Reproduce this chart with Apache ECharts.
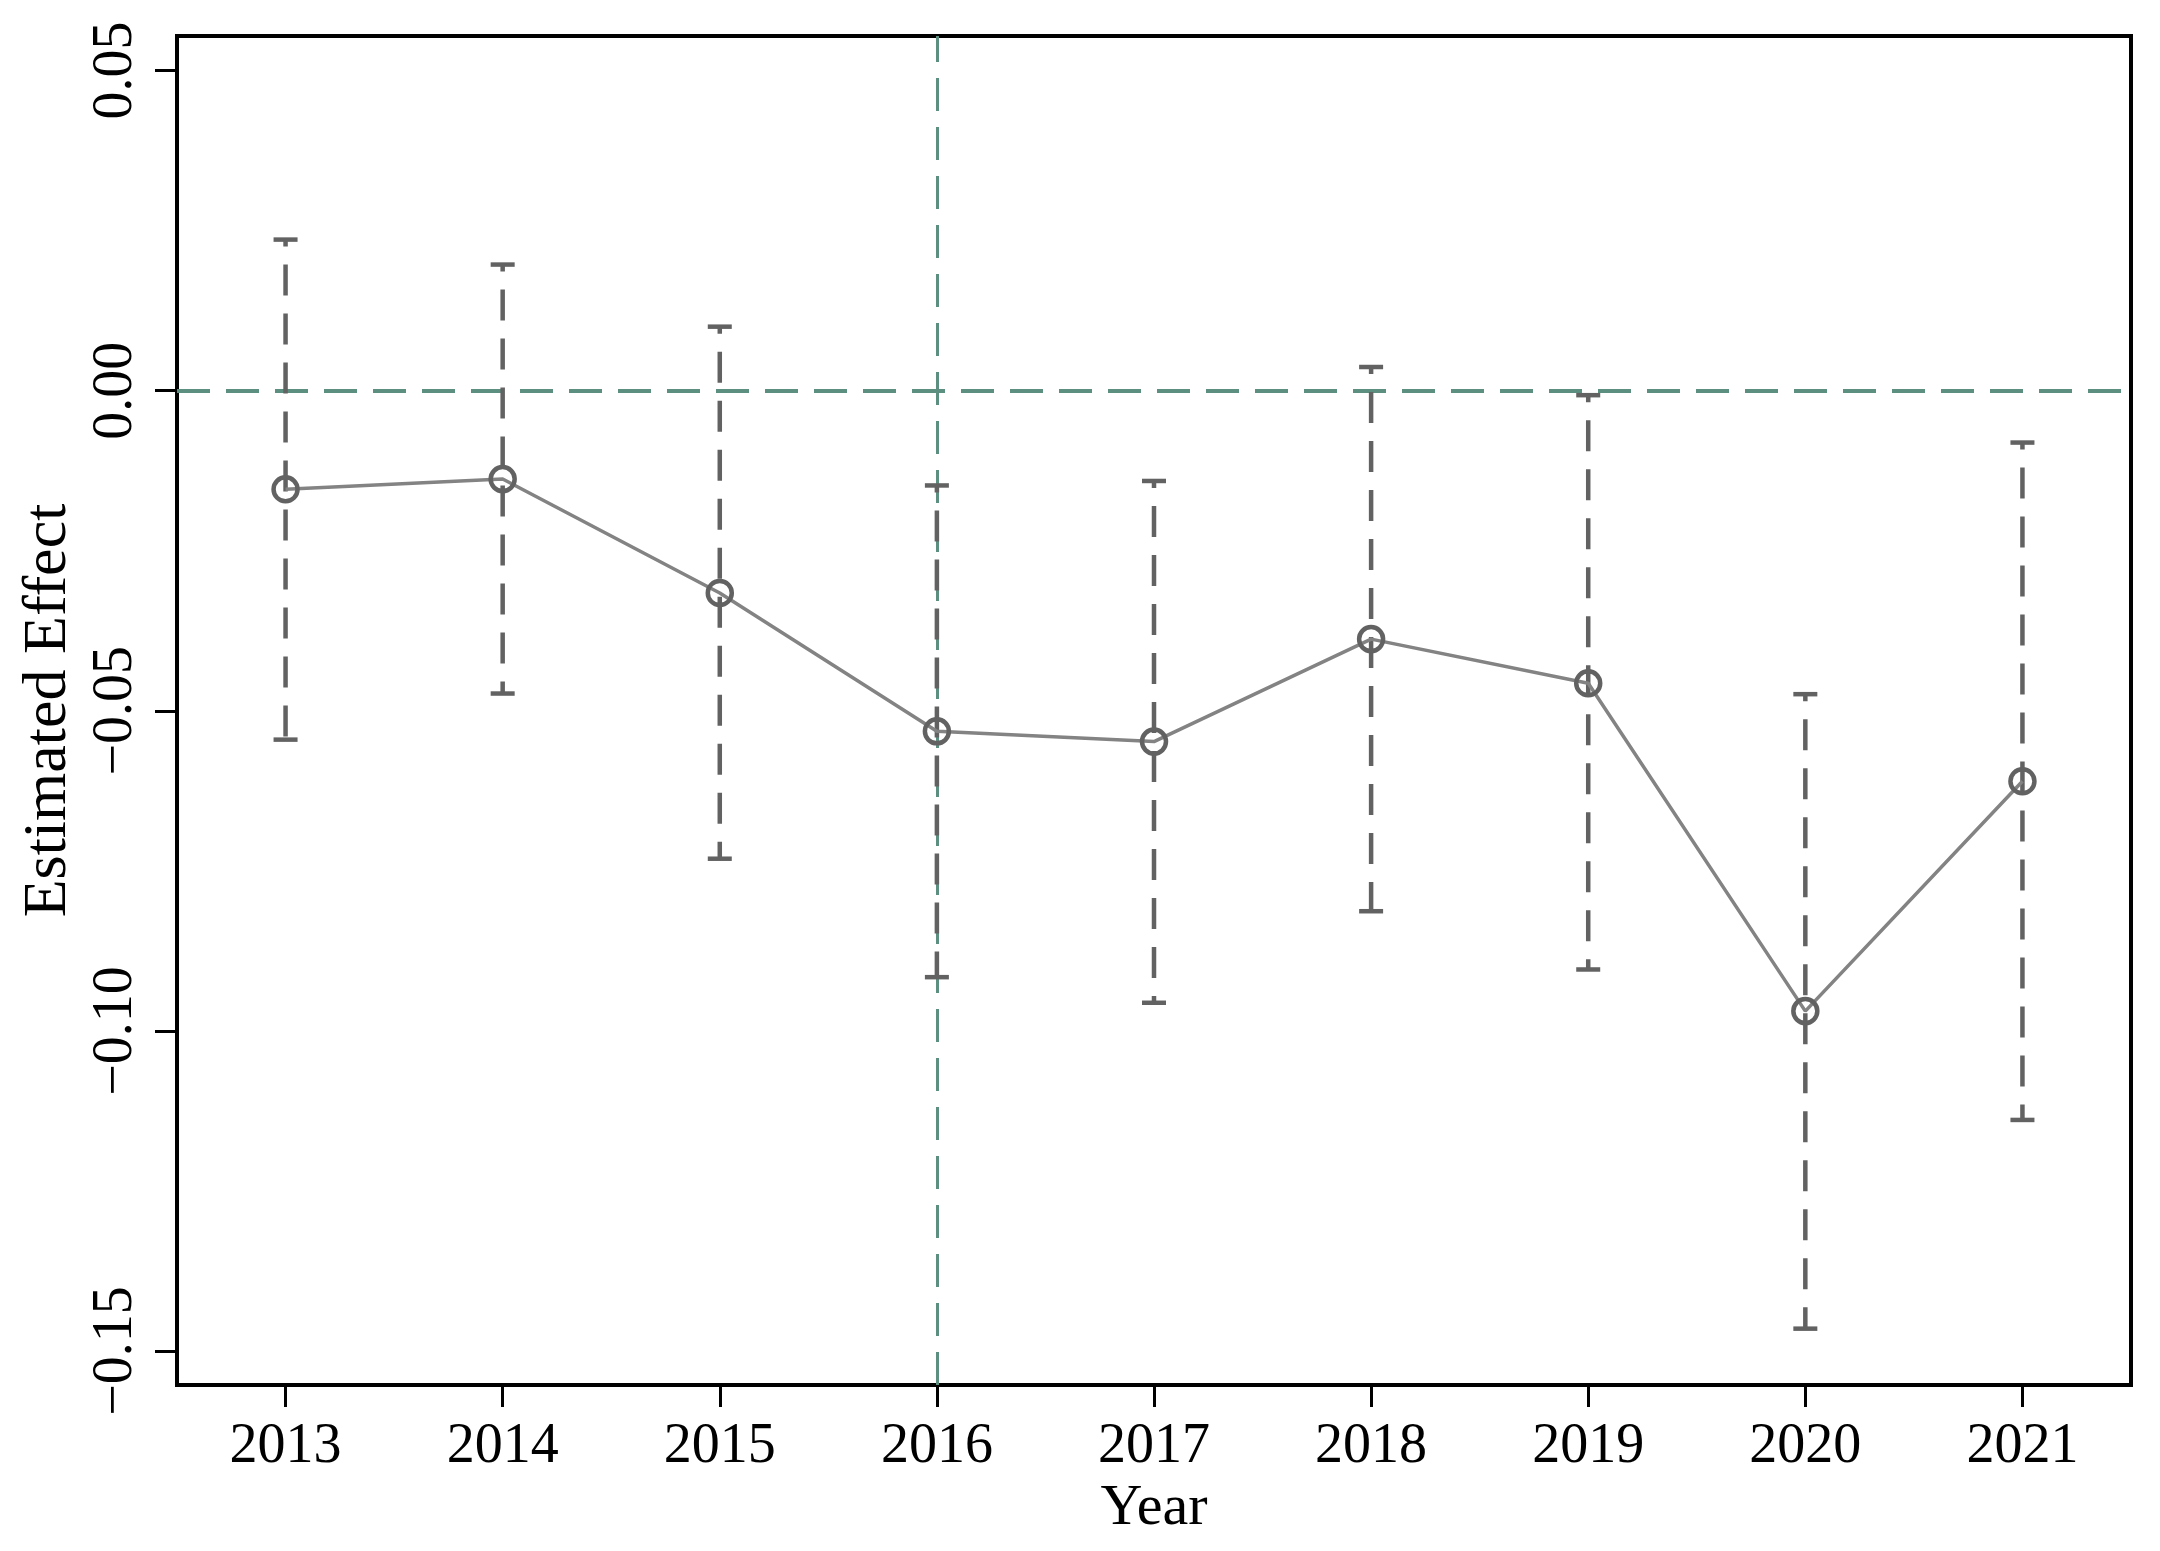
<!DOCTYPE html>
<html>
<head>
<meta charset="utf-8">
<script src="https://cdn.jsdelivr.net/npm/echarts@6/dist/echarts.min.js"></script>
<style>
html,body{margin:0;padding:0;background:#fff;}
#chart{width:2160px;height:1551px;}
</style>
</head>
<body>
<div id="chart"></div>
<script>
// Data
const years = ['2013','2014','2015','2016','2017','2018','2019','2020','2021'];
const estimates = [-0.0154, -0.0138, -0.0316, -0.0532, -0.0548, -0.0388, -0.0457, -0.0969, -0.0610];
const ciLower = [-0.0545, -0.0473, -0.0731, -0.0916, -0.0956, -0.0813, -0.0904, -0.1465, -0.1139];
const ciUpper = [0.0236, 0.0197, 0.0100, -0.0148, -0.0141, 0.0037, -0.0007, -0.0474, -0.0081];
const yTicks = [-0.15, -0.10, -0.05, 0.00, 0.05];
const refYear = '2016';
const refValue = 0;

const FONT = "'Liberation Serif', 'Times New Roman', serif";
const teal = '#5c8f80';
const dark = '#626262';

const errData = years.map((y, i) => [i, ciLower[i], ciUpper[i]]);

const chart = echarts.init(document.getElementById('chart'), null, {renderer: 'canvas'});
chart.setOption({
  animation: false,
  backgroundColor: '#fff',
  grid: {
    left: 177, right: 29, top: 36, bottom: 166,
    show: true, borderColor: '#000', borderWidth: 4, backgroundColor: 'transparent'
  },
  xAxis: {
    type: 'category',
    data: years,
    boundaryGap: true,
    name: 'Year',
    nameLocation: 'middle',
    nameGap: 82,
    nameTextStyle: {fontFamily: FONT, fontSize: 58, color: '#000'},
    axisLine: {show: true, onZero: false, lineStyle: {color: '#000', width: 4}},
    axisTick: {show: true, alignWithLabel: true, length: 22, lineStyle: {color: '#000', width: 3}},
    axisLabel: {fontFamily: FONT, fontSize: 56, color: '#000', margin: 34},
    splitLine: {show: false}
  },
  yAxis: {
    type: 'value',
    min: -0.1553,
    max: 0.0554,
    name: 'Estimated Effect',
    nameLocation: 'middle',
    nameGap: 96,
    nameRotate: 90,
    nameTextStyle: {fontFamily: FONT, fontSize: 62, color: '#000'},
    axisLine: {show: true, onZero: false, lineStyle: {color: '#000', width: 4}},
    axisTick: {show: true, length: 22, lineStyle: {color: '#000', width: 3}, customValues: yTicks},
    axisLabel: {
      fontFamily: FONT, fontSize: 56, color: '#000', rotate: 90, margin: 33,
      customValues: yTicks,
      formatter: v => (v < -1e-9 ? '\u2212' : '') + Math.abs(v).toFixed(2)
    },
    splitLine: {show: false}
  },
  series: [
    {
      type: 'custom',
      name: 'CI',
      data: errData,
      z: 3,
      renderItem: (params, api) => {
        const x = api.value(0);
        const lo = api.coord([x, api.value(1)]);
        const hi = api.coord([x, api.value(2)]);
        const hw = 12;
        const st = {stroke: dark, lineWidth: 4.5};
        return {
          type: 'group',
          children: [
            {type: 'line', shape: {x1: hi[0], y1: hi[1], x2: lo[0], y2: lo[1]},
             style: Object.assign({lineDash: [31, 18], lineDashOffset: 24}, st)},
            {type: 'line', shape: {x1: hi[0] - hw, y1: hi[1], x2: hi[0] + hw, y2: hi[1]}, style: st},
            {type: 'line', shape: {x1: lo[0] - hw, y1: lo[1], x2: lo[0] + hw, y2: lo[1]}, style: st}
          ]
        };
      }
    },
    {
      type: 'line',
      name: 'Estimate',
      data: estimates,
      z: 4,
      symbol: 'circle',
      symbolSize: 24,
      lineStyle: {color: '#838383', width: 3.5},
      itemStyle: {color: 'rgba(0,0,0,0)', borderColor: dark, borderWidth: 4.5},
      markLine: {
        silent: true,
        symbol: 'none',
        label: {show: false},
        z: 2,
        data: [
          {yAxis: refValue, lineStyle: {color: teal, width: 4, type: [33, 16]}},
          {xAxis: refYear, lineStyle: {color: teal, width: 3, type: [33, 16]}}
        ]
      }
    }
  ]
});
</script>
</body>
</html>
